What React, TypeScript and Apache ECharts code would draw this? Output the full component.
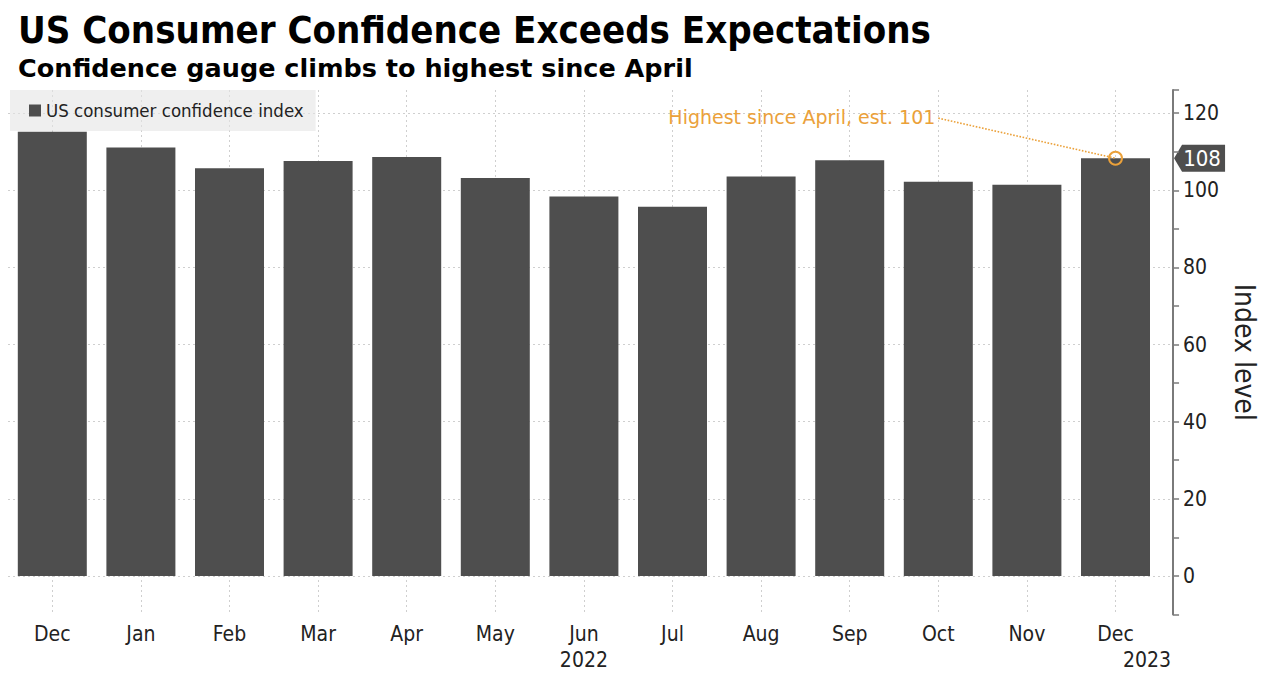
import React, { useEffect, useRef } from 'react';
import * as echarts from 'echarts';

const categories = ['2021-12', '2022-01', '2022-02', '2022-03', '2022-04', '2022-05', '2022-06', '2022-07', '2022-08', '2022-09', '2022-10', '2022-11', '2022-12'];
const monthLabels = ['Dec', 'Jan', 'Feb', 'Mar', 'Apr', 'May', 'Jun', 'Jul', 'Aug', 'Sep', 'Oct', 'Nov', 'Dec'];
const yearLabels = ['', '', '', '', '', '', '2022', '', '', '', '', '', '2023'];
const confidenceIndex = [115.2, 111.1, 105.7, 107.6, 108.6, 103.2, 98.4, 95.7, 103.6, 107.8, 102.2, 101.4, 108.3];
const seriesName = 'US consumer confidence index';
const titleText = 'US Consumer Confidence Exceeds Expectations';
const subtitleText = 'Confidence gauge climbs to highest since April';
const axisName = 'Index level';
const annotationText = 'Highest since April, est. 101';
const annotationStart = [10, 118.7];
const yMin = -10;
const yMax = 126;

const FONT = '"DejaVu Sans Condensed", "DejaVu Sans", sans-serif';
const WIDE = '"DejaVu Sans", sans-serif';
const BAR = '#4e4e4e';
const ORANGE = '#eba13a';
const GRID = '#cfcfcf';

export default function App() {
  const ref = useRef<HTMLDivElement>(null);
  useEffect(() => {
    if (!ref.current) return;
    const chart = echarts.init(ref.current, null, { renderer: 'svg' });
    const lastIdx = confidenceIndex.length - 1;
    const last = confidenceIndex[lastIdx];
    chart.setOption({
      animation: false,
      textStyle: { fontFamily: FONT },
      title: {
        text: titleText,
        subtext: subtitleText,
        left: 18,
        top: 11,
        padding: 0,
        itemGap: 6,
        textStyle: { fontFamily: FONT, fontSize: 38, fontWeight: 'bold', color: '#000' },
        subtextStyle: { fontFamily: WIDE, fontSize: 25.5, fontWeight: 'bold', color: '#000' },
      },
      legend: {
        left: 10,
        top: 90,
        padding: [11, 12, 11, 19],
        backgroundColor: 'rgba(228,228,228,0.6)',
        icon: 'rect',
        itemWidth: 12,
        itemHeight: 12,
        textStyle: { fontFamily: FONT, fontSize: 18.5, color: '#222' },
        data: [seriesName],
      },
      grid: [
        { left: 8, right: 91, top: 90, bottom: 61.5 },
        { left: 52.3, right: 150.5, top: 90, bottom: 61.5 },
      ],
      xAxis: [
        { type: 'value', gridIndex: 0, min: 0, max: 1, show: false },
        {
          type: 'category',
          gridIndex: 1,
          data: categories,
          boundaryGap: false,
          axisLine: { show: false },
          axisTick: { show: false },
          splitLine: { show: true, lineStyle: { color: GRID, type: [2, 3], width: 1 } },
          axisLabel: {
            interval: 0,
            margin: 6,
            formatter: (_v: string, i: number) => {
              const m = monthLabels[i];
              const y = yearLabels[i];
              if (!y) return `{m|${m}}`;
              return i === lastIdx ? `{m|${m}}\n{yl|${y}}` : `{m|${m}}\n{y|${y}}`;
            },
            rich: {
              m: { fontFamily: FONT, fontSize: 21, lineHeight: 26, color: '#222' },
              y: { fontFamily: FONT, fontSize: 21, lineHeight: 26, color: '#222' },
              yl: { fontFamily: FONT, fontSize: 21, lineHeight: 26, color: '#222', padding: [0, 0, 0, 63] },
            },
          },
        },
      ],
      yAxis: [
        {
          type: 'value',
          gridIndex: 0,
          position: 'right',
          min: yMin,
          max: yMax,
          interval: 10,
          axisLine: { show: true, onZero: false, lineStyle: { color: '#7a7a7a', width: 2 } },
          axisTick: { show: true, length: 6, lineStyle: { color: '#7a7a7a', width: 1.5 } },
          splitLine: { show: false },
          axisLabel: {
            margin: 10,
            fontSize: 21,
            color: '#222',
            fontFamily: FONT,
            formatter: (v: number) => (v >= 0 && v % 20 === 0 ? String(v) : ''),
          },
          name: axisName,
          nameLocation: 'middle',
          nameRotate: -90,
          nameGap: 52,
          nameTextStyle: { fontFamily: FONT, fontSize: 28, color: '#222' },
        },
        {
          type: 'value',
          gridIndex: 0,
          position: 'right',
          min: yMin,
          max: yMax,
          splitNumber: 7,
          axisLine: { show: false, onZero: false },
          axisTick: { show: false },
          axisLabel: { show: false },
          splitLine: { show: true, showMinLine: false, showMaxLine: false, lineStyle: { color: GRID, type: [2, 3], width: 1 } },
        },
        { type: 'value', gridIndex: 1, min: yMin, max: yMax, show: false },
      ],
      series: [
        {
          name: seriesName,
          type: 'bar',
          xAxisIndex: 1,
          yAxisIndex: 2,
          data: confidenceIndex,
          barWidth: 69,
          clip: false,
          itemStyle: { color: BAR },
          markLine: {
            silent: true,
            symbol: ['none', 'none'],
            lineStyle: { color: ORANGE, type: 'dotted', width: 1.6 },
            label: {
              show: true,
              position: 'start',
              distance: 3,
              formatter: annotationText,
              color: ORANGE,
              fontSize: 19,
              fontFamily: WIDE,
            },
            data: [[{ coord: annotationStart }, { coord: [lastIdx, last] }]],
          },
          markPoint: {
            silent: true,
            symbol: 'circle',
            symbolSize: 13,
            itemStyle: { color: 'rgba(0,0,0,0)', borderColor: ORANGE, borderWidth: 2 },
            label: { show: false },
            data: [{ coord: [lastIdx, last] }],
          },
        },
      ],
    });
    const p = chart.convertToPixel({ xAxisIndex: 0, yAxisIndex: 0 }, [1, last]) as number[];
    const ax = p[0];
    const ay = p[1];
    chart.setOption({
      graphic: [
        {
          type: 'group',
          z: 100,
          children: [
            {
              type: 'polygon',
              shape: {
                points: [
                  [ax + 1, ay],
                  [ax + 9, ay - 13.5],
                  [ax + 52, ay - 13.5],
                  [ax + 52, ay + 13.5],
                  [ax + 9, ay + 13.5],
                ],
              },
              style: { fill: BAR },
            },
            {
              type: 'text',
              x: ax + 29,
              y: ay,
              style: {
                text: String(Math.round(last)),
                fill: '#fff',
                fontSize: 22,
                fontFamily: FONT,
                align: 'center',
                verticalAlign: 'middle',
              },
            },
          ],
        },
      ],
    });
    return () => chart.dispose();
  }, []);
  return (
    <div
      ref={ref}
      style={{ position: 'absolute', left: 0, top: 0, width: 1266, height: 676, background: '#fff' }}
    />
  );
}
